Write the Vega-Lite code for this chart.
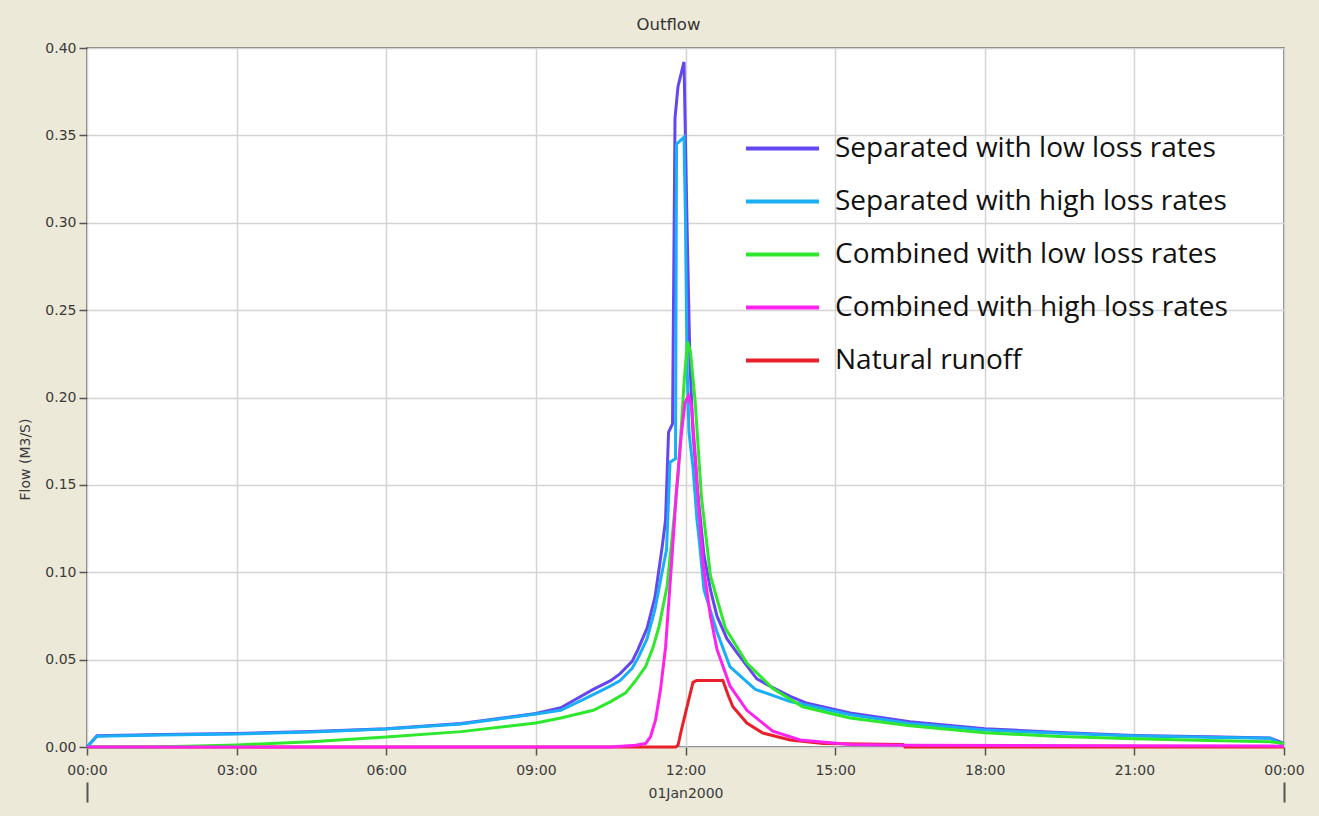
{
  "$schema": "https://vega.github.io/schema/vega-lite/v6.json",
  "width": 1197,
  "height": 699,
  "autosize": {"type": "none"},
  "padding": {"left": 87, "top": 48, "right": 35, "bottom": 69},
  "background": "#ECE9D8",
  "title": {"text": "Outflow", "font": "DejaVu Sans", "fontSize": 16.5, "fontWeight": "normal", "color": "#333333", "offset": 8, "dx": -17},
  "config": {
    "view": {"fill": "white", "stroke": "#555555", "strokeWidth": 1.5},
    "axis": {"labelFont": "DejaVu Sans", "labelFontSize": 14, "labelColor": "#3a3a3a", "titleFont": "DejaVu Sans", "titleFontSize": 14, "titleFontWeight": "normal", "titleColor": "#3a3a3a", "tickColor": "#555555", "tickWidth": 1.5, "domainColor": "#555555", "gridColor": "#d4d4d4", "gridWidth": 1.5}
  },
  "data": {"values": [
    {"s":"Natural runoff","h":0,"v":0},{"s":"Natural runoff","h":11.8,"v":0},{"s":"Natural runoff","h":11.85,"v":0.001},{"s":"Natural runoff","h":11.92,"v":0.01},{"s":"Natural runoff","h":12.03,"v":0.023},{"s":"Natural runoff","h":12.15,"v":0.037},{"s":"Natural runoff","h":12.22,"v":0.038},{"s":"Natural runoff","h":12.75,"v":0.038},{"s":"Natural runoff","h":12.85,"v":0.03},{"s":"Natural runoff","h":12.95,"v":0.023},{"s":"Natural runoff","h":13.23,"v":0.0137},{"s":"Natural runoff","h":13.55,"v":0.008},{"s":"Natural runoff","h":14.1,"v":0.004},{"s":"Natural runoff","h":14.76,"v":0.002},{"s":"Natural runoff","h":16.36,"v":0.0015},{"s":"Natural runoff","h":16.4,"v":0},{"s":"Natural runoff","h":24,"v":0},
    {"s":"Separated with low loss rates","h":0,"v":0},{"s":"Separated with low loss rates","h":0.2,"v":0.0065},{"s":"Separated with low loss rates","h":1.5,"v":0.0071},{"s":"Separated with low loss rates","h":3,"v":0.0077},{"s":"Separated with low loss rates","h":4.5,"v":0.0088},{"s":"Separated with low loss rates","h":6,"v":0.0105},{"s":"Separated with low loss rates","h":7.5,"v":0.0135},{"s":"Separated with low loss rates","h":9,"v":0.0192},{"s":"Separated with low loss rates","h":9.5,"v":0.0225},{"s":"Separated with low loss rates","h":10.15,"v":0.033},{"s":"Separated with low loss rates","h":10.5,"v":0.038},{"s":"Separated with low loss rates","h":10.69,"v":0.042},{"s":"Separated with low loss rates","h":10.93,"v":0.049},{"s":"Separated with low loss rates","h":11.05,"v":0.056},{"s":"Separated with low loss rates","h":11.23,"v":0.068},{"s":"Separated with low loss rates","h":11.39,"v":0.086},{"s":"Separated with low loss rates","h":11.53,"v":0.114},{"s":"Separated with low loss rates","h":11.6,"v":0.13},{"s":"Separated with low loss rates","h":11.66,"v":0.18},{"s":"Separated with low loss rates","h":11.74,"v":0.185},{"s":"Separated with low loss rates","h":11.79,"v":0.36},{"s":"Separated with low loss rates","h":11.85,"v":0.378},{"s":"Separated with low loss rates","h":11.97,"v":0.392},{"s":"Separated with low loss rates","h":12.03,"v":0.3},{"s":"Separated with low loss rates","h":12.09,"v":0.219},{"s":"Separated with low loss rates","h":12.15,"v":0.18},{"s":"Separated with low loss rates","h":12.23,"v":0.15},{"s":"Separated with low loss rates","h":12.37,"v":0.11},{"s":"Separated with low loss rates","h":12.5,"v":0.09},{"s":"Separated with low loss rates","h":12.63,"v":0.075},{"s":"Separated with low loss rates","h":12.83,"v":0.062},{"s":"Separated with low loss rates","h":13.03,"v":0.054},{"s":"Separated with low loss rates","h":13.43,"v":0.039},{"s":"Separated with low loss rates","h":13.75,"v":0.034},{"s":"Separated with low loss rates","h":14.1,"v":0.029},{"s":"Separated with low loss rates","h":14.44,"v":0.025},{"s":"Separated with low loss rates","h":15.3,"v":0.0195},{"s":"Separated with low loss rates","h":16.5,"v":0.0145},{"s":"Separated with low loss rates","h":18,"v":0.0105},{"s":"Separated with low loss rates","h":19.5,"v":0.0083},{"s":"Separated with low loss rates","h":21,"v":0.0066},{"s":"Separated with low loss rates","h":22.5,"v":0.0058},{"s":"Separated with low loss rates","h":23.72,"v":0.0052},{"s":"Separated with low loss rates","h":24,"v":0.002},
    {"s":"Separated with high loss rates","h":0,"v":0},{"s":"Separated with high loss rates","h":0.2,"v":0.0062},{"s":"Separated with high loss rates","h":1.5,"v":0.0068},{"s":"Separated with high loss rates","h":3,"v":0.0075},{"s":"Separated with high loss rates","h":4.5,"v":0.0086},{"s":"Separated with high loss rates","h":6,"v":0.0103},{"s":"Separated with high loss rates","h":7.5,"v":0.0132},{"s":"Separated with high loss rates","h":9,"v":0.0189},{"s":"Separated with high loss rates","h":9.5,"v":0.021},{"s":"Separated with high loss rates","h":10.15,"v":0.03},{"s":"Separated with high loss rates","h":10.5,"v":0.035},{"s":"Separated with high loss rates","h":10.69,"v":0.038},{"s":"Separated with high loss rates","h":10.93,"v":0.045},{"s":"Separated with high loss rates","h":11.05,"v":0.051},{"s":"Separated with high loss rates","h":11.23,"v":0.062},{"s":"Separated with high loss rates","h":11.39,"v":0.079},{"s":"Separated with high loss rates","h":11.53,"v":0.1},{"s":"Separated with high loss rates","h":11.62,"v":0.113},{"s":"Separated with high loss rates","h":11.69,"v":0.163},{"s":"Separated with high loss rates","h":11.8,"v":0.165},{"s":"Separated with high loss rates","h":11.82,"v":0.345},{"s":"Separated with high loss rates","h":11.97,"v":0.349},{"s":"Separated with high loss rates","h":12.0,"v":0.3},{"s":"Separated with high loss rates","h":12.03,"v":0.22},{"s":"Separated with high loss rates","h":12.07,"v":0.18},{"s":"Separated with high loss rates","h":12.15,"v":0.16},{"s":"Separated with high loss rates","h":12.23,"v":0.13},{"s":"Separated with high loss rates","h":12.27,"v":0.12},{"s":"Separated with high loss rates","h":12.37,"v":0.09},{"s":"Separated with high loss rates","h":12.63,"v":0.066},{"s":"Separated with high loss rates","h":12.89,"v":0.046},{"s":"Separated with high loss rates","h":13.4,"v":0.033},{"s":"Separated with high loss rates","h":14.1,"v":0.026},{"s":"Separated with high loss rates","h":15.3,"v":0.0185},{"s":"Separated with high loss rates","h":16.5,"v":0.0135},{"s":"Separated with high loss rates","h":18,"v":0.0097},{"s":"Separated with high loss rates","h":19.5,"v":0.0078},{"s":"Separated with high loss rates","h":21,"v":0.0063},{"s":"Separated with high loss rates","h":22.5,"v":0.0056},{"s":"Separated with high loss rates","h":23.72,"v":0.005},{"s":"Separated with high loss rates","h":24,"v":0.001},
    {"s":"Combined with low loss rates","h":0,"v":0},{"s":"Combined with low loss rates","h":1.2,"v":0},{"s":"Combined with low loss rates","h":2,"v":0.0005},{"s":"Combined with low loss rates","h":3,"v":0.0012},{"s":"Combined with low loss rates","h":4.5,"v":0.003},{"s":"Combined with low loss rates","h":6,"v":0.0057},{"s":"Combined with low loss rates","h":7.5,"v":0.0088},{"s":"Combined with low loss rates","h":9,"v":0.0137},{"s":"Combined with low loss rates","h":9.5,"v":0.0166},{"s":"Combined with low loss rates","h":10.15,"v":0.021},{"s":"Combined with low loss rates","h":10.5,"v":0.026},{"s":"Combined with low loss rates","h":10.8,"v":0.031},{"s":"Combined with low loss rates","h":11.0,"v":0.038},{"s":"Combined with low loss rates","h":11.2,"v":0.046},{"s":"Combined with low loss rates","h":11.35,"v":0.057},{"s":"Combined with low loss rates","h":11.47,"v":0.069},{"s":"Combined with low loss rates","h":11.63,"v":0.092},{"s":"Combined with low loss rates","h":11.75,"v":0.125},{"s":"Combined with low loss rates","h":11.85,"v":0.155},{"s":"Combined with low loss rates","h":11.92,"v":0.185},{"s":"Combined with low loss rates","h":11.98,"v":0.212},{"s":"Combined with low loss rates","h":12.04,"v":0.232},{"s":"Combined with low loss rates","h":12.1,"v":0.226},{"s":"Combined with low loss rates","h":12.19,"v":0.199},{"s":"Combined with low loss rates","h":12.32,"v":0.143},{"s":"Combined with low loss rates","h":12.5,"v":0.098},{"s":"Combined with low loss rates","h":12.8,"v":0.068},{"s":"Combined with low loss rates","h":13.23,"v":0.048},{"s":"Combined with low loss rates","h":13.75,"v":0.0335},{"s":"Combined with low loss rates","h":14.35,"v":0.023},{"s":"Combined with low loss rates","h":15.3,"v":0.0166},{"s":"Combined with low loss rates","h":16.5,"v":0.0122},{"s":"Combined with low loss rates","h":18,"v":0.0082},{"s":"Combined with low loss rates","h":19.5,"v":0.006},{"s":"Combined with low loss rates","h":21,"v":0.0047},{"s":"Combined with low loss rates","h":22.5,"v":0.0037},{"s":"Combined with low loss rates","h":23.72,"v":0.003},{"s":"Combined with low loss rates","h":24,"v":0.002},
    {"s":"Combined with high loss rates","h":0,"v":0},{"s":"Combined with high loss rates","h":10.5,"v":0},{"s":"Combined with high loss rates","h":11.0,"v":0.001},{"s":"Combined with high loss rates","h":11.2,"v":0.002},{"s":"Combined with high loss rates","h":11.3,"v":0.006},{"s":"Combined with high loss rates","h":11.4,"v":0.0155},{"s":"Combined with high loss rates","h":11.5,"v":0.033},{"s":"Combined with high loss rates","h":11.6,"v":0.057},{"s":"Combined with high loss rates","h":11.72,"v":0.105},{"s":"Combined with high loss rates","h":11.82,"v":0.147},{"s":"Combined with high loss rates","h":11.92,"v":0.18},{"s":"Combined with high loss rates","h":11.99,"v":0.197},{"s":"Combined with high loss rates","h":12.06,"v":0.201},{"s":"Combined with high loss rates","h":12.12,"v":0.195},{"s":"Combined with high loss rates","h":12.2,"v":0.165},{"s":"Combined with high loss rates","h":12.25,"v":0.143},{"s":"Combined with high loss rates","h":12.35,"v":0.105},{"s":"Combined with high loss rates","h":12.5,"v":0.075},{"s":"Combined with high loss rates","h":12.63,"v":0.056},{"s":"Combined with high loss rates","h":12.89,"v":0.035},{"s":"Combined with high loss rates","h":13.23,"v":0.021},{"s":"Combined with high loss rates","h":13.75,"v":0.009},{"s":"Combined with high loss rates","h":14.3,"v":0.004},{"s":"Combined with high loss rates","h":15.3,"v":0.0015},{"s":"Combined with high loss rates","h":16.4,"v":0.001},{"s":"Combined with high loss rates","h":24,"v":0.0005}
  ]},
  "layer": [
    {
      "mark": {"type": "line", "strokeWidth": 3},
      "encoding": {
        "x": {"field": "h", "type": "quantitative", "scale": {"domain": [0, 24], "nice": false},
          "axis": {"orient": "bottom", "values": [0, 3, 6, 9, 12, 15, 18, 21, 24], "labelExpr": "datum.value == 24 ? '00:00' : ((datum.value < 10 ? '0' : '') + datum.value + ':00')", "tickSize": 8, "labelPadding": 8, "domain": false, "grid": true, "title": "01Jan2000", "titlePadding": 9, "labelFlush": false}},
        "y": {"field": "v", "type": "quantitative", "scale": {"domain": [0, 0.4], "nice": false},
          "axis": {"values": [0, 0.05, 0.1, 0.15, 0.2, 0.25, 0.3, 0.35, 0.4], "format": ".2f", "tickSize": 8, "labelPadding": 3, "domain": false, "grid": true, "title": "Flow (M3/S)", "titleX": -62, "titleY": 411, "titleAngle": 270, "titleAlign": "center", "titleBaseline": "middle"}},
        "color": {"field": "s", "type": "nominal",
          "scale": {"domain": ["Separated with low loss rates", "Separated with high loss rates", "Combined with low loss rates", "Combined with high loss rates", "Natural runoff"],
                    "range": ["#6347f0", "#1aaef5", "#2ee82e", "#ff22ee", "#e8202a"]},
          "legend": {"title": null, "orient": "none", "legendX": 657, "legendY": 62, "symbolType": "stroke", "symbolSize": 5329, "symbolStrokeWidth": 4, "labelFont": "Open Sans", "labelFontSize": 28, "labelColor": "#111111", "labelLimit": 700, "rowPadding": 0, "labelOffset": 14, "fillColor": null, "strokeColor": null}}
      }
    },
    {
      "mark": {"type": "line", "opacity": 0},
      "encoding": {
        "x": {"field": "h", "type": "quantitative", "scale": {"domain": [0, 24], "nice": false},
          "axis": {"orient": "bottom", "values": [0, 24], "labels": false, "domain": false, "grid": false, "tickSize": 20, "tickWidth": 2, "offset": 35, "title": null}},
        "y": {"field": "v", "type": "quantitative"},
        "detail": {"field": "s"}
      }
    }
  ],
  "resolve": {"axis": {"x": "independent"}}
}
